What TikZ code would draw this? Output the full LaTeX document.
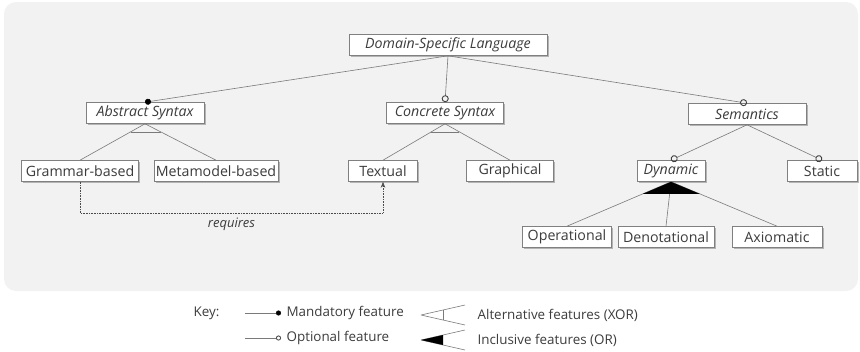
\documentclass[tikz,border=0pt]{standalone}
\usepackage{fontspec}
\setmainfont{Open Sans}
\usepackage{tikz}
\usetikzlibrary{arrows.meta, calc, shadows}
\definecolor{bgGray}{HTML}{F2F2F2}
\definecolor{lineGray}{HTML}{7A7A7A}
\definecolor{textGray}{HTML}{3C3C3C}
\tikzset{
  feat/.style={draw=black!50, fill=white, text=textGray, inner sep=0pt, minimum height=21pt,
    drop shadow={shadow xshift=1.5pt, shadow yshift=-1.5pt, fill=black!45, opacity=0.6},
    font=\fontsize{14.2}{16}\selectfont},
  abstrfeat/.style={feat, font=\fontsize{14.2}{16}\selectfont\itshape},
  mand/.style={-{Circle[length=6pt, black]}},
  opt/.style={-{Circle[open, length=7pt, black!75, line width=0.9pt]}},
  keytext/.style={anchor=west, text=textGray, font=\fontsize{13.4}{15}\selectfont}
}

\begin{document}
\begin{tikzpicture}[x=1pt, y=-1pt, draw=lineGray, line width=0.6pt]
\useasboundingbox (0,0) rectangle (860,351);
\fill[bgGray, rounded corners=12pt] (4,2) rectangle (858,291);

% feature nodes
\node[abstrfeat, minimum width=198pt] (dsl) at (448,45) {Domain-Specific Language};
\node[abstrfeat, minimum width=118pt] (abs) at (145,113) {Abstract Syntax};
\node[abstrfeat, minimum width=117pt] (conc) at (445,113) {Concrete Syntax};
\node[abstrfeat, minimum width=118pt] (sem) at (747,114) {Semantics};
\node[feat, minimum width=117pt] (gram) at (80,171) {Grammar-based};
\node[feat, minimum width=124pt] (meta) at (216,171) {Metamodel-based};
\node[feat, minimum width=69pt] (text) at (383,171) {Textual};
\node[feat, minimum width=87pt] (graph) at (510,171) {Graphical};
\node[abstrfeat, minimum width=68pt] (dyn) at (671,171) {Dynamic};
\node[feat, minimum width=70pt] (stat) at (822,171) {Static};
\node[feat, minimum width=89pt] (oper) at (567,237) {Operational};
\node[feat, minimum width=96pt] (deno) at (666,237) {Denotational};
\node[feat, minimum width=90pt] (axio) at (777,237) {Axiomatic};

% top level
\draw[mand] (dsl.south) -- (abs.north);
\draw[opt] (dsl.south) -- (conc.north);
\draw[opt] (dsl.south) -- (sem.north);

% alternative groups (XOR)
\draw (abs.south) -- (gram.north);
\draw (abs.south) -- (meta.north);
\draw ($(abs.south)!0.22!(gram.north)$) -- ($(abs.south)!0.22!(meta.north)$);
\draw (conc.south) -- (text.north);
\draw (conc.south) -- (graph.north);
\draw ($(conc.south)!0.22!(text.north)$) -- ($(conc.south)!0.22!(graph.north)$);

% semantics
\draw[opt] (sem.south) -- (dyn.north);
\draw[opt] (sem.south) -- (stat.north);

% inclusive group (OR)
\draw (dyn.south) -- (oper.north);
\draw (dyn.south) -- (deno.north);
\draw (dyn.south) -- (axio.north);
\fill[black] (dyn.south) -- ($(dyn.south)!0.27!(oper.north)$) -- ($(dyn.south)!0.27!(axio.north)$) -- cycle;

% requires
\draw[densely dotted, -{Stealth[length=6pt, width=4.5pt]}, black!70] (gram.south) -- ++(0,31)
  -| node[pos=0.25, below=2pt, text=textGray, font=\fontsize{13}{15}\selectfont\itshape] (req) {requires} (text.south);

% key
\node[keytext] (key) at (190,313) {Key:};
\coordinate (km1) at (245,313);
\coordinate (km2) at (281,313);
\coordinate (ko1) at (245,338);
\coordinate (ko2) at (281,338);
\draw[-{Circle[length=5pt, black]}] (km1) -- (km2);
\draw[-{Circle[open, length=5pt, black!75, line width=0.8pt]}] (ko1) -- (ko2);
\node[keytext] (kmand) at (283,313) {Mandatory feature};
\node[keytext] (kopt) at (283,338) {Optional feature};

\coordinate (kx) at (421,315);
\coordinate (kx1) at (465,305);
\coordinate (kx2) at (465,325);
\draw (kx) -- (kx1) (kx) -- (kx2);
\draw ($(kx)!0.5!(kx1)$) -- ($(kx)!0.5!(kx2)$);
\coordinate (ki) at (421,340);
\coordinate (ki1) at (465,330);
\coordinate (ki2) at (465,350);
\draw (ki) -- (ki1) (ki) -- (ki2);
\fill[black] (ki) -- ($(ki)!0.5!(ki1)$) -- ($(ki)!0.5!(ki2)$) -- cycle;
\node[keytext] (kxor) at (474,315) {Alternative features (XOR)};
\node[keytext] (kor) at (474,340) {Inclusive features (OR)};
\end{tikzpicture}
\end{document}
